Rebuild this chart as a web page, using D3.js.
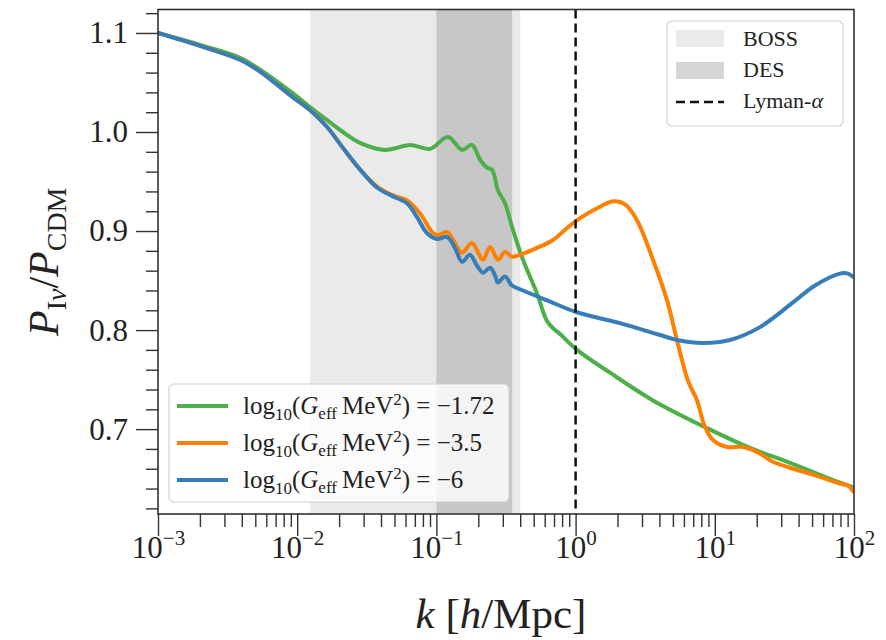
<!DOCTYPE html>
<meta charset="utf-8">
<style>

body {
  margin: 0;
  background: #fff;
}

svg {
  font-family: "Liberation Serif", "DejaVu Serif", serif;
}

.axis path {
  display: none;
}

.axis line {
  stroke: #333;
  stroke-width: 1.4;
}

.axis text {
  font-family: "Liberation Serif", "DejaVu Serif", serif;
  font-size: 31px;
  fill: #222;
}

</style>
<body>
<svg width="886" height="640"></svg>

<script src="https://d3js.org/d3.v7.min.js"></script>
<script>

// k in h/Mpc, ratio P_Iv / P_CDM
var kGreen = [0.001, 0.002, 0.00388, 0.00541, 0.00933, 0.0124, 0.0164, 0.0213, 0.0283, 0.0413, 0.0488, 0.0646, 0.0900, 0.121, 0.153, 0.180, 0.206, 0.231, 0.251, 0.277, 0.311, 0.355, 0.419, 0.528, 0.624, 0.70, 0.773, 1.023, 1.766, 3.597, 8.79, 17.91, 34.67, 79.25, 100];
var rGreen = [1.100, 1.088, 1.075, 1.063, 1.039, 1.025, 1.012, 1.000, 0.989, 0.982, 0.983, 0.987, 0.983, 0.995, 0.982, 0.987, 0.972, 0.964, 0.962, 0.941, 0.928, 0.901, 0.871, 0.837, 0.809, 0.801, 0.796, 0.780, 0.757, 0.729, 0.701, 0.681, 0.666, 0.646, 0.641];

var kOrange = [0.001, 0.002, 0.00388, 0.00541, 0.00933, 0.0124, 0.0164, 0.0213, 0.0283, 0.0374, 0.0488, 0.0615, 0.0762, 0.0946, 0.103, 0.119, 0.132, 0.153, 0.180, 0.216, 0.243, 0.277, 0.311, 0.349, 0.399, 0.528, 0.689, 0.867, 1.076, 1.426, 1.858, 2.265, 2.761, 3.597, 4.539, 5.346, 6.412, 7.447, 8.511, 9.705, 12.25, 15.96, 20.09, 26.18, 34.67, 50.82, 79.25, 90.57, 100];
var rOrange = [1.100, 1.087, 1.073, 1.061, 1.035, 1.022, 1.005, 0.984, 0.962, 0.945, 0.936, 0.931, 0.918, 0.898, 0.896, 0.899, 0.891, 0.878, 0.888, 0.871, 0.884, 0.871, 0.879, 0.874, 0.876, 0.883, 0.891, 0.903, 0.913, 0.923, 0.930, 0.927, 0.911, 0.871, 0.830, 0.790, 0.749, 0.729, 0.702, 0.689, 0.682, 0.682, 0.677, 0.667, 0.661, 0.654, 0.645, 0.643, 0.636];

var kBlue = [0.001, 0.002, 0.00388, 0.00541, 0.00933, 0.0124, 0.0164, 0.0213, 0.0283, 0.0374, 0.0488, 0.0615, 0.0726, 0.0855, 0.101, 0.119, 0.136, 0.153, 0.174, 0.196, 0.216, 0.243, 0.264, 0.277, 0.311, 0.349, 0.419, 0.624, 1.02, 2.08, 4.04, 5.35, 8.22, 12.85, 21.1, 36.5, 52.5, 79.3, 90.6, 100];
var rBlue = [1.100, 1.087, 1.073, 1.061, 1.035, 1.022, 1.005, 0.984, 0.962, 0.944, 0.935, 0.928, 0.914, 0.898, 0.892, 0.894, 0.883, 0.869, 0.876, 0.865, 0.858, 0.863, 0.855, 0.848, 0.854, 0.845, 0.840, 0.830, 0.818, 0.807, 0.795, 0.790, 0.787, 0.790, 0.803, 0.828, 0.845, 0.857, 0.857, 0.853];

var seriesNames = ["\u22121.72", "\u22123.5", "\u22126"];
var seriesColors = ["#4daf4a", "#ff7f00", "#377eb8"];

var bossRange = [0.0124, 0.4];
var desRange = [0.1, 0.35];
var lymanK = 1;

var xTicks = [1e-3, 1e-2, 1e-1, 1, 10, 100];
var xTickExp = ["\u22123", "\u22122", "\u22121", "0", "1", "2"];
var yTicks = [0.7, 0.8, 0.9, 1.0, 1.1];

var svg = d3.select("svg"),
    margin = {top: 9.5, right: 32, bottom: 126, left: 158},
    width = 886 - margin.left - margin.right,
    height = 640 - margin.top - margin.bottom;

var x = d3.scaleLog()
    .domain([1e-3, 1e2])
    .range([0, width]);

var y = d3.scaleLinear()
    .domain([0.6143, 1.1237])
    .range([height, 0]);

var g = svg.append("g")
    .attr("transform", "translate(" + margin.left + "," + margin.top + ")");

svg.append("defs").append("clipPath")
    .attr("id", "clip")
  .append("rect")
    .attr("width", width)
    .attr("height", height);

// survey bands
g.append("rect")
    .attr("x", x(bossRange[0]))
    .attr("width", x(bossRange[1]) - x(bossRange[0]))
    .attr("height", height)
    .attr("fill", "#808080")
    .attr("fill-opacity", 0.17);

g.append("rect")
    .attr("x", x(desRange[0]))
    .attr("width", x(desRange[1]) - x(desRange[0]))
    .attr("height", height)
    .attr("fill", "#808080")
    .attr("fill-opacity", 0.33);

// curves
var line = d3.line()
    .x(function(d) { return x(d[0]); })
    .y(function(d) { return y(d[1]); })
    .curve(d3.curveCatmullRom.alpha(0.5));

var series = [
  d3.zip(kGreen, rGreen),
  d3.zip(kOrange, rOrange),
  d3.zip(kBlue, rBlue)
];

g.append("g")
    .attr("clip-path", "url(#clip)")
  .selectAll("path")
  .data(series)
  .enter().append("path")
    .attr("d", line)
    .attr("fill", "none")
    .attr("stroke", function(d, i) { return seriesColors[i]; })
    .attr("stroke-width", 4)
    .attr("stroke-linejoin", "round");

// Lyman-alpha line
g.append("line")
    .attr("x1", x(lymanK))
    .attr("x2", x(lymanK))
    .attr("y1", 0)
    .attr("y2", height)
    .attr("stroke", "#111")
    .attr("stroke-width", 2.5)
    .attr("stroke-dasharray", "9,5");

// axes
g.append("g")
    .attr("class", "axis")
    .call(d3.axisLeft(y).tickValues(yTicks).tickSize(22).tickPadding(8).tickFormat(d3.format(".1f")));

var yMinor = d3.range(0.62, 1.121, 0.02).filter(function(v) {
  return !yTicks.some(function(t) { return Math.abs(t - v) < 1e-6; });
});
g.append("g")
    .attr("class", "axis")
    .call(d3.axisLeft(y).tickValues(yMinor).tickSize(12).tickFormat(""));

var xAxis = g.append("g")
    .attr("class", "axis")
    .attr("transform", "translate(0," + height + ")")
    .call(d3.axisBottom(x).tickValues(xTicks).tickSize(22).tickFormat(""));

xAxis.selectAll(".tick text")
    .attr("y", 44)
    .attr("dy", 0)
    .each(function(d, i) {
      var t = d3.select(this);
      t.append("tspan").text("10");
      t.append("tspan").attr("dy", -13).style("font-size", "21px").text(xTickExp[i]);
    });

var xMinor = x.ticks().filter(function(v) {
  return xTicks.indexOf(v) < 0;
});
g.append("g")
    .attr("class", "axis")
    .attr("transform", "translate(0," + height + ")")
    .call(d3.axisBottom(x).tickValues(xMinor).tickSize(13).tickFormat(""));

// frame
g.append("rect")
    .attr("width", width)
    .attr("height", height)
    .attr("fill", "none")
    .attr("stroke", "#333")
    .attr("stroke-width", 1.6);

// axis labels
var xl = svg.append("text")
    .attr("x", margin.left + width / 2 - 5)
    .attr("y", 628)
    .attr("text-anchor", "middle")
    .style("font-size", "43px")
    .attr("fill", "#222");
xl.append("tspan").style("font-style", "italic").text("k");
xl.append("tspan").text(" [");
xl.append("tspan").style("font-style", "italic").text("h");
xl.append("tspan").text("/Mpc]");

var yl = svg.append("text")
    .attr("transform", "translate(58," + (margin.top + height / 2) + ") rotate(-90)")
    .attr("text-anchor", "middle")
    .style("font-size", "42px")
    .attr("fill", "#222");
yl.append("tspan").style("font-style", "italic").text("P");
yl.append("tspan").attr("dy", 8).style("font-size", "28px").text("I");
yl.append("tspan").style("font-size", "28px").style("font-style", "italic").text("\u03bd");
yl.append("tspan").attr("dy", -8).text("/");
yl.append("tspan").style("font-style", "italic").text("P");
yl.append("tspan").attr("dy", 8).style("font-size", "28px").text("CDM");

// legend: surveys
var leg1 = svg.append("g").attr("transform", "translate(667,21)");
leg1.append("rect")
    .attr("width", 176)
    .attr("height", 105)
    .attr("rx", 5)
    .attr("fill", "#fff")
    .attr("fill-opacity", 0.8)
    .attr("stroke", "#d0d0d0")
    .attr("stroke-width", 1.2);

leg1.append("rect")
    .attr("x", 9).attr("y", 9).attr("width", 48).attr("height", 17)
    .attr("fill", "#808080").attr("fill-opacity", 0.17);
leg1.append("rect")
    .attr("x", 9).attr("y", 41).attr("width", 48).attr("height", 17)
    .attr("fill", "#808080").attr("fill-opacity", 0.33);
leg1.append("line")
    .attr("x1", 9).attr("x2", 57).attr("y1", 81).attr("y2", 81)
    .attr("stroke", "#111").attr("stroke-width", 2.5).attr("stroke-dasharray", "9,5");

leg1.selectAll("text.lab")
  .data(["BOSS", "DES", null])
  .enter().append("text")
    .attr("class", "lab")
    .attr("x", 76)
    .attr("y", function(d, i) { return 25 + i * 31; })
    .style("font-size", "22px")
    .attr("fill", "#222")
    .each(function(d) {
      var t = d3.select(this);
      if (d) t.text(d);
      else {
        t.append("tspan").text("Lyman-");
        t.append("tspan").style("font-style", "italic").text("\u03b1");
      }
    });

// legend: couplings
var leg2 = svg.append("g").attr("transform", "translate(169,384)");
leg2.append("rect")
    .attr("width", 340)
    .attr("height", 118)
    .attr("rx", 5)
    .attr("fill", "#fff")
    .attr("fill-opacity", 0.8)
    .attr("stroke", "#d0d0d0")
    .attr("stroke-width", 1.2);

var rows = leg2.selectAll("g.row")
  .data(seriesNames)
  .enter().append("g")
    .attr("class", "row")
    .attr("transform", function(d, i) { return "translate(0," + (22 + i * 37) + ")"; });

rows.append("line")
    .attr("x1", 8).attr("x2", 59)
    .attr("stroke", function(d, i) { return seriesColors[i]; })
    .attr("stroke-width", 4);

rows.append("text")
    .attr("x", 74)
    .attr("y", 8)
    .style("font-size", "25px")
    .attr("fill", "#222")
    .each(function(d) {
      var t = d3.select(this);
      t.append("tspan").text("log");
      t.append("tspan").attr("dy", 6).style("font-size", "17px").text("10");
      t.append("tspan").attr("dy", -6).text("(");
      t.append("tspan").style("font-style", "italic").text("G");
      t.append("tspan").attr("dy", 5).style("font-size", "17px").text("eff");
      t.append("tspan").attr("dy", -5).text("\u2009MeV");
      t.append("tspan").attr("dy", -9).style("font-size", "17px").text("2");
      t.append("tspan").attr("dy", 9).text(") = " + d);
    });

</script>
</body>
